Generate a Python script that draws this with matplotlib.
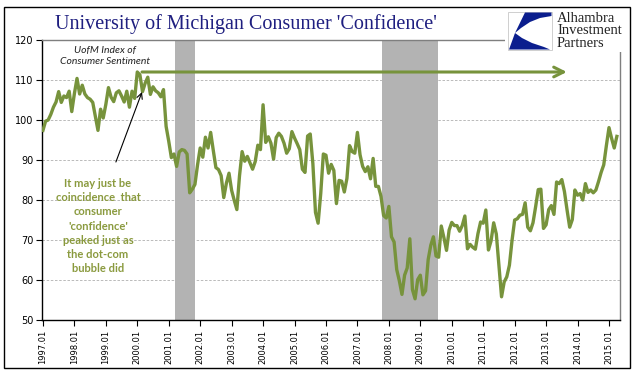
import matplotlib
matplotlib.use('Agg')
import matplotlib.pyplot as plt
import matplotlib.patches as patches
import numpy as np

# UofM consumer sentiment, monthly from 1997.01
sentiment = [
    97.4, 99.7, 100.0, 101.4, 103.2, 104.5, 107.1, 104.4, 106.0, 105.6, 107.2, 102.1,   # 1997
    106.6, 110.4, 106.5, 108.7, 106.5, 105.6, 105.2, 104.4, 100.9, 97.4, 102.7, 100.5,  # 1998
    103.9, 108.1, 105.7, 104.6, 106.8, 107.3, 106.0, 104.5, 107.2, 103.2, 107.2, 105.4, # 1999
    112.0, 111.3, 107.1, 109.2, 110.7, 106.4, 108.3, 107.3, 106.8, 105.8, 107.6, 98.4,  # 2000
    94.7, 90.6, 91.5, 88.4, 92.0, 92.6, 92.4, 91.5, 81.8, 82.7, 83.9, 88.8,             # 2001
    93.0, 90.7, 95.7, 93.0, 96.9, 92.4, 88.1, 87.6, 86.1, 80.6, 84.2, 86.7,             # 2002
    82.4, 79.9, 77.6, 86.0, 92.1, 89.7, 90.9, 89.3, 87.7, 89.6, 93.7, 92.6,             # 2003
    103.8, 94.4, 95.8, 94.2, 90.2, 95.6, 96.7, 95.9, 94.2, 91.7, 92.8, 97.1,            # 2004
    95.5, 94.1, 92.6, 87.7, 86.9, 96.0, 96.5, 89.1, 76.9, 74.2, 81.6, 91.5,             # 2005
    91.2, 86.7, 88.9, 87.4, 79.1, 84.9, 84.7, 82.0, 85.4, 93.6, 92.1, 91.7,             # 2006
    96.9, 91.3, 88.4, 87.1, 88.3, 85.3, 90.4, 83.4, 83.4, 80.9, 76.1, 75.5,             # 2007
    78.4, 70.8, 69.5, 62.6, 59.8, 56.4, 61.2, 63.0, 70.3, 57.6, 55.3, 60.1,             # 2008
    61.2, 56.3, 57.3, 65.1, 68.7, 70.8, 66.0, 65.7, 73.5, 70.6, 67.4, 72.5,             # 2009
    74.4, 73.6, 73.6, 72.2, 73.6, 76.0, 67.8, 68.9, 68.2, 67.7, 71.6, 74.5,             # 2010
    74.2, 77.5, 67.5, 69.8, 74.3, 71.5, 63.7, 55.8, 59.5, 60.8, 63.7, 69.9,             # 2011
    75.0, 75.3, 76.2, 76.4, 79.3, 73.2, 72.3, 74.3, 78.3, 82.6, 82.7, 72.9,             # 2012
    73.8, 77.6, 78.6, 76.4, 84.5, 84.1, 85.1, 82.1, 77.5, 73.2, 75.1, 82.5,             # 2013
    81.2, 81.6, 80.0, 84.1, 81.9, 82.5, 81.8, 82.5, 84.6, 86.9, 88.8, 93.6,             # 2014
    98.1, 95.4, 93.0, 95.9,                                                             # 2015
]
start_year = 1997
years = list(range(1997, 2016))
tick_labels = [f'{y}.01' for y in years]
recessions = [(2001.2, 2001.83), (2007.78, 2009.55)]
peak_level = 112
arrow_end = 2013.66

W, H = 641, 375
fig = plt.figure(figsize=(W / 100, H / 100), dpi=100)

def fx(px):
    return px / W

def fy(py):
    return 1 - py / H

ax = fig.add_axes([fx(42), fy(320), fx(620) - fx(42), fy(40) - fy(320)])

t = start_year + np.arange(len(sentiment)) / 12.0
green = '#77933C'

for a, b in recessions:
    ax.axvspan(a, b, color='#B3B3B3', lw=0, zorder=1)

ax.plot(t, sentiment, color=green, lw=2.4, zorder=3)

ax.set_xlim(1996.97, 2015.35)
ax.set_ylim(50, 120)
ax.set_yticks(range(50, 121, 10))
ax.set_xticks(years)
ax.set_xticklabels(tick_labels, rotation=90, fontsize=6)
ax.tick_params(axis='y', labelsize=7, length=4, width=0.8, direction='out', pad=2)
ax.tick_params(axis='x', length=4, width=0.8, direction='out', pad=3)
ax.yaxis.grid(True, color='#B0B0B0', lw=0.6, ls=(0, (3, 2)), zorder=0)
ax.set_axisbelow(True)

for s in ['left', 'bottom']:
    ax.spines[s].set_color('black')
    ax.spines[s].set_linewidth(1)
for s in ['top', 'right']:
    ax.spines[s].set_color('#7F7F7F')
    ax.spines[s].set_linewidth(1)

# peak-level arrow
ax.annotate('', xy=(arrow_end, peak_level), xytext=(2000.15, peak_level),
            arrowprops=dict(arrowstyle='->, head_length=0.7, head_width=0.35',
                            color=green, lw=2.2, shrinkA=0, shrinkB=0), zorder=4)

ax.annotate('', xy=(2000.15, 107), xytext=(1999.32, 89.5),
            arrowprops=dict(arrowstyle='->, head_length=0.4, head_width=0.2',
                            color='black', lw=0.8, shrinkA=0, shrinkB=0), zorder=4)

ax.text(1998.97, 117.5, 'UofM Index of', ha='center', va='center',
        fontsize=7.5, style='italic', family='Lato', color='#222222')
ax.text(1998.97, 114.75, 'Consumer Sentiment', ha='center', va='center',
        fontsize=7.5, style='italic', family='Lato', color='#222222')

ax.text(1998.75, 73.5,
        "It may just be\ncoincidence  that\nconsumer\n'confidence'\npeaked just as\nthe dot-com\nbubble did",
        ha='center', va='center', fontsize=8, fontweight='bold', family='Lato',
        color='#8A9A3E', linespacing=1.35)

# title
fig.text(fx(246), fy(24), "University of Michigan Consumer 'Confidence'",
         ha='center', va='center', fontsize=14.5, family='Liberation Serif',
         color='#1F1F80')

# logo area (covers the plot frame corner)
fig.patches.append(patches.Rectangle((fx(505), fy(52)), fx(628) - fx(505), fy(9) - fy(52),
                                     transform=fig.transFigure, facecolor='white',
                                     edgecolor='none', zorder=5))
fig.patches.append(patches.Rectangle((fx(508), fy(50)), fx(552) - fx(508), fy(12) - fy(50),
                                     transform=fig.transFigure, facecolor='white',
                                     edgecolor='#C8C8C8', lw=0.6, zorder=6))
blue = '#0B1E8E'
upper = [(525, 12.5), (551.5, 12.5), (551.5, 16), (540, 18), (530, 22), (521, 28), (515, 33)]
lower = [(515, 33), (522, 38), (532, 43), (544, 47), (550, 49.5), (509, 49.5)]
for poly in (upper, lower):
    fig.patches.append(patches.Polygon([(fx(x), fy(y)) for x, y in poly], closed=True,
                                       transform=fig.transFigure, facecolor=blue,
                                       edgecolor='none', zorder=7))
fig.text(fx(557), fy(31), 'Alhambra\nInvestment\nPartners', ha='left', va='center',
         fontsize=10.5, family='Liberation Serif', color='#222222', linespacing=0.92,
         zorder=8)

# outer frame
fig.patches.append(patches.Rectangle((fx(4), fy(368)), fx(630) - fx(4), fy(7) - fy(368),
                                     transform=fig.transFigure, facecolor='none',
                                     edgecolor='black', lw=1, zorder=9))

fig.savefig('out.png', dpi=100)
